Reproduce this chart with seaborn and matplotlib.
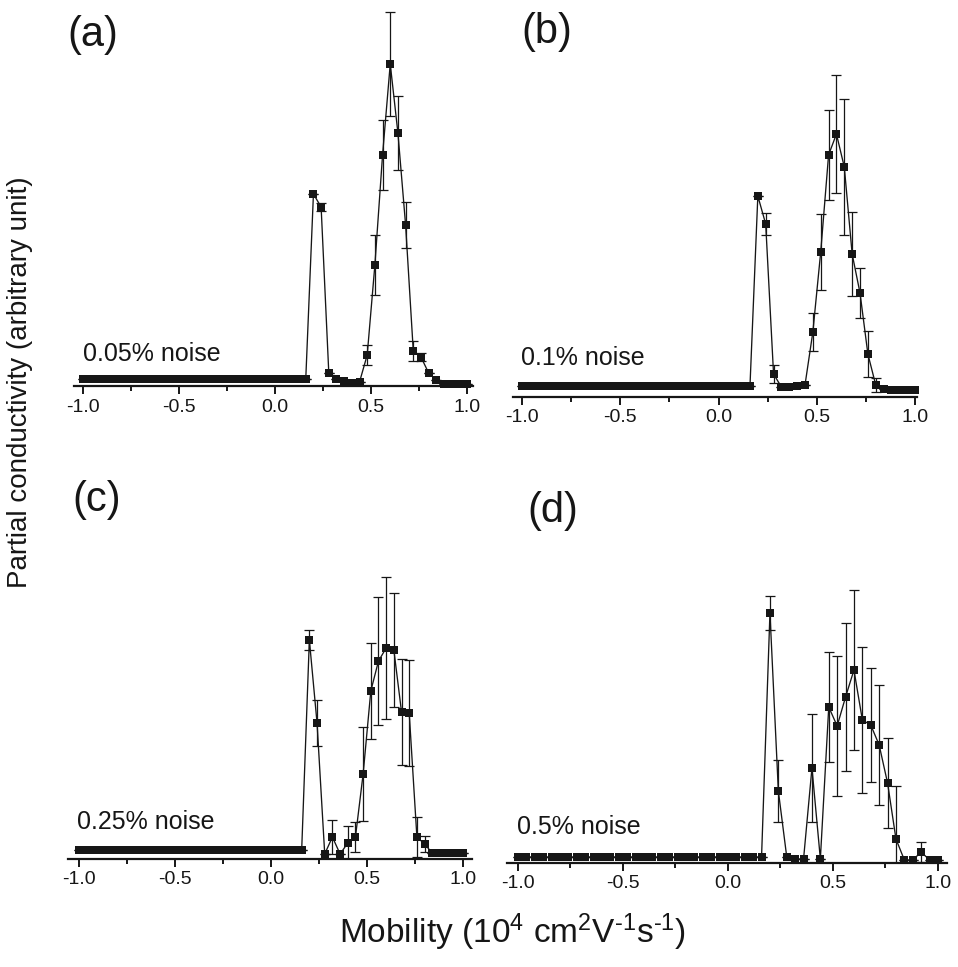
import numpy as np
import pandas as pd
import matplotlib
matplotlib.use("Agg")
import matplotlib.pyplot as plt
from matplotlib.ticker import MultipleLocator
import seaborn as sns

# ---------------- data (arbitrary units) ----------------
mobility = [-1.00, -0.96, -0.92, -0.88, -0.84, -0.80, -0.76, -0.72, -0.68, -0.64,
            -0.60, -0.56, -0.52, -0.48, -0.44, -0.40, -0.36, -0.32, -0.28, -0.24,
            -0.20, -0.16, -0.12, -0.08, -0.04, 0.00, 0.04, 0.08, 0.12, 0.16,
            0.20, 0.24, 0.28, 0.32, 0.36, 0.40, 0.44, 0.48, 0.52, 0.56,
            0.60, 0.64, 0.68, 0.72, 0.76, 0.80, 0.84, 0.88, 0.92, 0.96, 1.00]

sigma_a = [7, 7, 7, 7, 7, 7, 7, 7, 7, 7,
           7, 7, 7, 7, 7, 7, 7, 7, 7, 7,
           7, 7, 7, 7, 7, 7, 7, 7, 7, 7,
           192, 179, 13, 7, 5, 3, 4, 31, 121, 231,
           322, 253, 161, 35, 29, 13, 6, 2, 2, 2, 2]
err_a = [0, 0, 0, 0, 0, 0, 0, 0, 0, 0,
         0, 0, 0, 0, 0, 0, 0, 0, 0, 0,
         0, 0, 0, 0, 0, 0, 0, 0, 0, 0,
         0, 4, 0, 0, 0, 0, 0, 10, 30, 35,
         52, 37, 23, 10, 4, 0, 0, 0, 0, 0, 0]

sigma_b = [11, 11, 11, 11, 11, 11, 11, 11, 11, 11,
           11, 11, 11, 11, 11, 11, 11, 11, 11, 11,
           11, 11, 11, 11, 11, 11, 11, 11, 11, 11,
           201, 173, 23, 10, 10, 11, 12, 65, 145, 242,
           263, 230, 143, 104, 43, 12, 8, 7, 7, 7, 7]
err_b = [0, 0, 0, 0, 0, 0, 0, 0, 0, 0,
         0, 0, 0, 0, 0, 0, 0, 0, 0, 0,
         0, 0, 0, 0, 0, 0, 0, 0, 0, 0,
         0, 11, 9, 0, 0, 0, 0, 19, 38, 45,
         59, 68, 42, 25, 23, 7, 0, 0, 0, 0, 0]

sigma_c = [9, 9, 9, 9, 9, 9, 9, 9, 9, 9,
           9, 9, 9, 9, 9, 9, 9, 9, 9, 9,
           9, 9, 9, 9, 9, 9, 9, 9, 9, 9,
           219, 136, 5, 22, 5, 16, 22, 85, 168, 198,
           211, 209, 147, 146, 22, 15, 6, 6, 6, 6, 6]
err_c = [0, 0, 0, 0, 0, 0, 0, 0, 0, 0,
         0, 0, 0, 0, 0, 0, 0, 0, 0, 0,
         0, 0, 0, 0, 0, 0, 0, 0, 0, 0,
         10, 23, 0, 17, 0, 17, 15, 47, 48, 64,
         71, 57, 53, 53, 20, 8, 0, 0, 0, 0, 0]

sigma_d = [6, 6, 6, 6, 6, 6, 6, 6, 6, 6,
           6, 6, 6, 6, 6, 6, 6, 6, 6, 6,
           6, 6, 6, 6, 6, 6, 6, 6, 6, 6,
           250, 72, 6, 4, 4, 95, 4, 156, 137, 166,
           193, 143, 138, 118, 80, 24, 3, 3, 11, 3, 3]
err_d = [0, 0, 0, 0, 0, 0, 0, 0, 0, 0,
         0, 0, 0, 0, 0, 0, 0, 0, 0, 0,
         0, 0, 0, 0, 0, 0, 0, 0, 0, 0,
         17, 31, 0, 0, 0, 54, 0, 55, 70, 74,
         80, 73, 57, 60, 45, 53, 0, 0, 10, 0, 0]

panel_letters = ["(a)", "(b)", "(c)", "(d)"]
noise_labels = ["0.05% noise", "0.1% noise", "0.25% noise", "0.5% noise"]
tick_values = [-1.0, -0.5, 0.0, 0.5, 1.0]
tick_labels = ["-1.0", "-0.5", "0.0", "0.5", "1.0"]
ylabel = "Partial conductivity (arbitrary unit)"
xlabel = "Mobility (10$^{4}$ cm$^{2}$V$^{\u2010 1}$s$^{\u2010 1}$)"

# ---------------- style ----------------
sns.set_theme(style="white")
plt.rcParams["font.family"] = ["Liberation Sans", "DejaVu Sans"]
plt.rcParams["mathtext.fontset"] = "custom"
plt.rcParams["mathtext.rm"] = "Liberation Sans"
plt.rcParams["mathtext.it"] = "Liberation Sans"
plt.rcParams["mathtext.default"] = "regular"

W, H = 958, 967
fig = plt.figure(figsize=(W / 100, H / 100), dpi=100)
fig.patch.set_facecolor("white")

ink = "#161616"

# layout in pixels: (left, right, top, bottom), xlim
panels = [
    dict(px=(74, 473, 5, 386), xlim=(-1.047, 1.031), y=sigma_a, e=err_a,
         letter=(67, 35), noise=(83, 354)),
    dict(px=(513, 917, 5, 397), xlim=(-1.046, 1.010), y=sigma_b, e=err_b,
         letter=(521, 32), noise=(521, 358)),
    dict(px=(68, 472, 470, 859), xlim=(-1.057, 1.047), y=sigma_c, e=err_c,
         letter=(72, 500), noise=(77, 822)),
    dict(px=(507, 947, 470, 863), xlim=(-1.052, 1.043), y=sigma_d, e=err_d,
         letter=(527, 511), noise=(517, 827)),
]

for i, p in enumerate(panels):
    l, r, t, b = p["px"]
    ax = fig.add_axes([l / W, 1 - b / H, (r - l) / W, (b - t) / H])
    ax.set_facecolor("none")
    df = pd.DataFrame({"mobility": mobility, "sigma": p["y"], "err": p["e"]})
    ax.errorbar(df["mobility"], df["sigma"], yerr=df["err"], fmt="none",
                ecolor=ink, elinewidth=0.9, capsize=3.4, capthick=0.9,
                zorder=2)
    sns.lineplot(data=df, x="mobility", y="sigma", ax=ax, color=ink,
                 linewidth=0.95, marker="s", markersize=5.6, markeredgewidth=0,
                 markerfacecolor=ink, estimator=None, sort=True,
                 zorder=3, clip_on=False)
    ax.set_xlim(*p["xlim"])
    ax.set_ylim(0, b - t)
    for s in ["left", "right", "top"]:
        ax.spines[s].set_visible(False)
    ax.spines["bottom"].set_linewidth(1.6)
    ax.spines["bottom"].set_color(ink)
    ax.set_yticks([])
    ax.set_xticks(tick_values)
    ax.set_xticklabels(tick_labels, fontsize=14)
    ax.xaxis.set_minor_locator(MultipleLocator(0.25))
    ax.tick_params(axis="x", which="major", direction="out", length=6,
                   width=1.4, color=ink, pad=3, bottom=True, labelcolor=ink)
    ax.tick_params(axis="x", which="minor", direction="out", length=3.5,
                   width=1.4, color=ink, bottom=True)
    ax.set_xlabel("")
    ax.set_ylabel("")
    nx, ny = p["noise"]
    ax.text((nx - l) / (r - l), (b - ny) / (b - t), noise_labels[i],
            transform=ax.transAxes, fontsize=18, ha="left", va="center",
            color=ink)
    lx, ly = p["letter"]
    fig.text(lx / W, 1 - ly / H, panel_letters[i], fontsize=30,
             ha="left", va="center", color=ink)

fig.text(20 / W, 1 - 382 / H, ylabel, rotation=90, fontsize=20,
         ha="center", va="center", color=ink)
fig.text(512 / W, 1 - 932 / H, xlabel, fontsize=24,
         ha="center", va="center", color=ink)

fig.savefig("out.png", dpi=100, facecolor="white")
